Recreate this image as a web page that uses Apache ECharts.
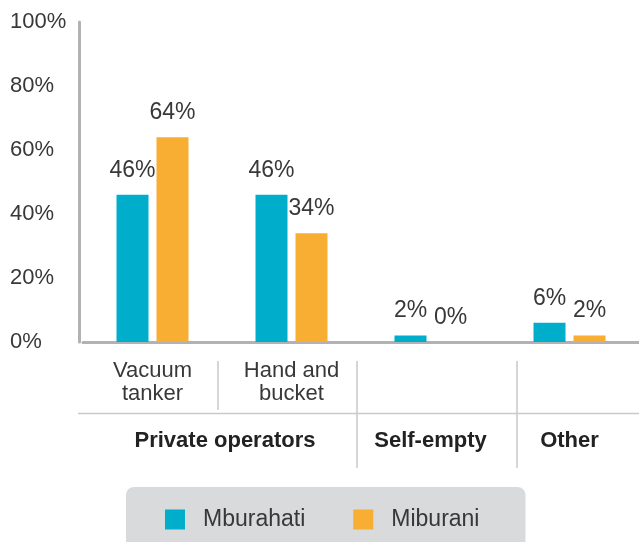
<!DOCTYPE html>
<html>
<head>
<meta charset="utf-8">
<script src="https://cdn.jsdelivr.net/npm/echarts@6/dist/echarts.min.js"></script>
<style>
  html, body { margin: 0; padding: 0; background: #ffffff; }
  #chart { width: 639px; height: 542px; }
</style>
</head>
<body>
<div id="chart"></div>
<script>
// Emptying service shares by provider type, two wards
const categories = ['Vacuum\ntanker', 'Hand and\nbucket', '', ''];
const groups = ['Private operators', 'Self-empty', 'Other'];
const mburahati = [46, 46, 2, 6];
const miburani = [64, 34, 0, 2];
const yTicks = [0, 20, 40, 60, 80, 100];

const FONT = '"Liberation Sans", Arial, sans-serif';
const TEXT = '#383838';
const TEAL = '#00AECB';
const ORANGE = '#F8AE33';

const chart = echarts.init(document.getElementById('chart'));

const valueLabel = {
  show: true,
  position: 'top',
  distance: 13,
  formatter: '{c}%',
  fontFamily: FONT,
  fontSize: 23,
  color: TEXT
};

chart.setOption({
  animation: false,
  grid: { left: 83, top: 22, width: 560, bottom: 200 },
  xAxis: {
    type: 'category',
    data: categories,
    axisLine: { show: true, onZero: false, lineStyle: { color: '#B2B2B6', width: 3 } },
    axisTick: { show: false },
    axisLabel: {
      margin: 17,
      fontFamily: FONT,
      fontSize: 22,
      lineHeight: 23,
      color: TEXT
    }
  },
  yAxis: {
    type: 'value',
    min: yTicks[0],
    max: yTicks[yTicks.length - 1],
    interval: 20,
    offset: 4,
    axisLine: { show: true, lineStyle: { color: '#B2B2B6', width: 3 } },
    axisTick: { show: false },
    splitLine: { show: false },
    axisLabel: {
      formatter: '{value}%',
      align: 'left',
      verticalAlign: 'middle',
      padding: [8, 0, 0, 0],
      margin: 69,
      fontFamily: FONT,
      fontSize: 22,
      color: TEXT
    }
  },
  legend: {
    left: 126,
    top: 487,
    data: ['Mburahati', 'Miburani'],
    icon: 'rect',
    itemWidth: 20,
    itemHeight: 20,
    itemGap: 48,
    padding: [21, 46, 40, 39],
    backgroundColor: '#D9DADC',
    borderRadius: 8,
    textStyle: {
      fontFamily: FONT,
      fontSize: 23,
      color: TEXT,
      padding: [0, 0, 0, 13]
    }
  },
  series: [
    {
      name: 'Mburahati',
      type: 'bar',
      data: mburahati,
      barWidth: 32,
      barGap: '25%',
      itemStyle: { color: TEAL },
      label: valueLabel
    },
    {
      name: 'Miburani',
      type: 'bar',
      data: miburani,
      barWidth: 32,
      itemStyle: { color: ORANGE },
      label: valueLabel
    }
  ]
});

// Group headings and dividers below the category labels
const centers = [0, 1, 2, 3].map(i => chart.convertToPixel({ xAxisIndex: 0 }, i));
const lineColor = '#C9C9CB';
const groupCenters = [(centers[0] + centers[1]) / 2 + 3, centers[2], centers[3]];

const graphics = [
  { type: 'line', shape: { x1: 78, y1: 413.5, x2: 639, y2: 413.5 }, style: { stroke: lineColor, lineWidth: 1.5 } },
  { type: 'line', shape: { x1: 218, y1: 361, x2: 218, y2: 410 }, style: { stroke: lineColor, lineWidth: 1.5 } },
  { type: 'line', shape: { x1: 357, y1: 361, x2: 357, y2: 468 }, style: { stroke: lineColor, lineWidth: 1.5 } },
  { type: 'line', shape: { x1: 517, y1: 361, x2: 517, y2: 468 }, style: { stroke: lineColor, lineWidth: 1.5 } }
];
groups.forEach((g, i) => {
  graphics.push({
    type: 'text',
    x: groupCenters[i],
    y: 441,
    style: {
      text: g,
      fontFamily: FONT,
      fontSize: 22,
      fontWeight: 'bold',
      fill: '#222222',
      textAlign: 'center',
      textVerticalAlign: 'middle'
    }
  });
});
chart.setOption({ graphic: graphics });
</script>
</body>
</html>
